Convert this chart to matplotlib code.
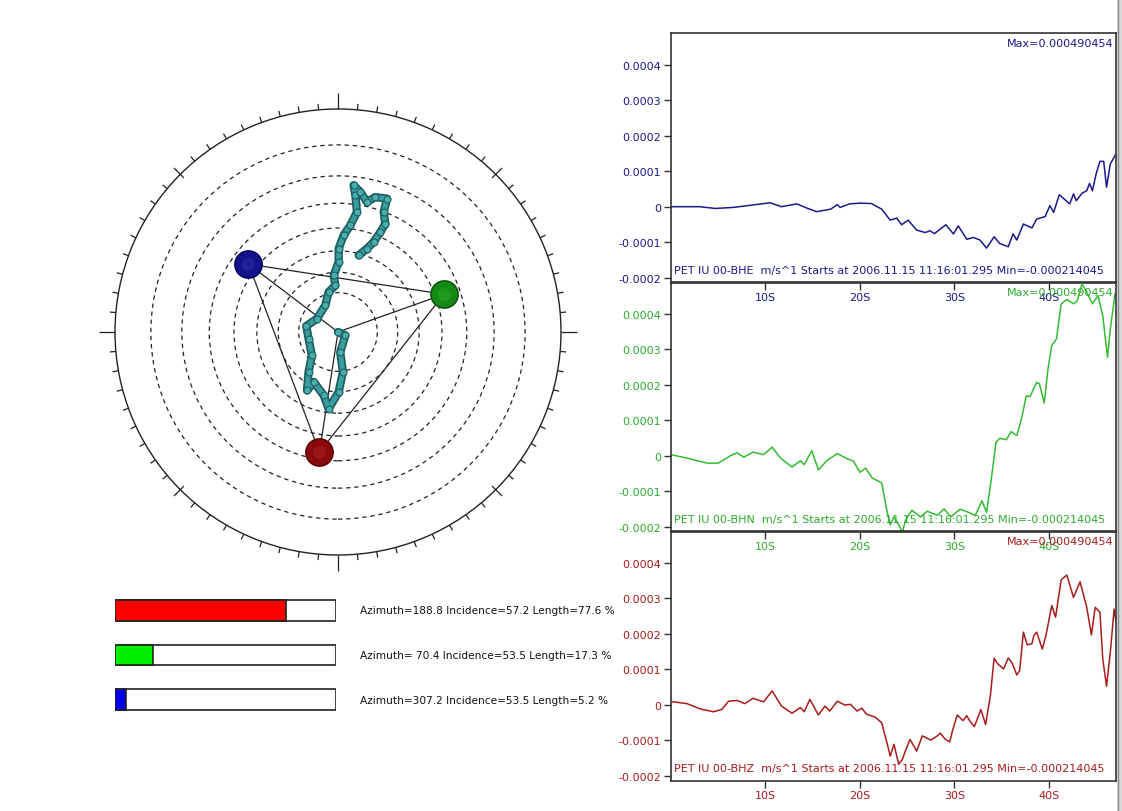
import numpy as np
import matplotlib
matplotlib.use("Agg")
import matplotlib.pyplot as plt
from matplotlib.patches import Rectangle, Circle

plt.rcParams['font.family'] = ['DejaVu Sans']

# ---------------- data ----------------
# waveform samples: time (s) and amplitude (units of 1e-4 m/s)
bhe_t = [0, 3.0, 4.7, 6.6, 8.4, 10.5, 11.7, 13.3, 14.4, 15.4, 16.9, 17.6,
         17.9, 18.9, 20.0, 21.2, 22.3, 23.2, 23.9, 24.4, 25.1, 26.0, 26.9, 27.4, 27.9, 28.5,
         29.1, 29.9, 30.4, 31.3, 32.0, 32.7, 33.4, 34.2, 34.8, 35.7, 36.2, 36.6, 37.3, 38.2,
         38.7, 39.6, 40.1, 40.5, 41.1, 41.6, 42.2, 42.6, 42.9, 43.5, 44.0, 44.3, 44.6, 45.0,
         45.4, 45.8, 46.1, 46.5, 47.1]
bhe_v = [0, 0, -0.05, -0.02, 0.04, 0.11, 0.0, 0.08, -0.04, -0.14, -0.07, 0.06,
         -0.02, 0.08, 0.10, 0.09, -0.07, -0.38, -0.32, -0.51, -0.38, -0.66, -0.73, -0.68,
         -0.76, -0.63, -0.51, -0.77, -0.54, -0.92, -0.87, -0.94, -1.17, -0.85, -1.04, -1.13,
         -0.77, -0.94, -0.49, -0.60, -0.35, -0.28, 0.03, -0.16, 0.34, 0.22, 0.08, 0.36, 0.17,
         0.38, 0.45, 0.66, 0.45, 0.93, 1.28, 1.28, 0.55, 1.21, 1.49]

bhn_t = [0, 1.7, 3.8, 5.0, 6.3, 7.0, 7.7, 8.7, 9.8, 10.7, 11.6, 12.8, 13.7, 14.1, 14.9, 15.6,
         16.5, 17.6, 18.6, 19.3, 20.0, 20.6, 21.3, 22.3, 22.9, 23.2, 23.6, 24.1, 24.5, 24.8,
         25.5, 26.4, 27.1, 28.2, 28.9, 29.6,
         30.6, 31.5, 32.2, 32.9, 33.4, 33.9, 34.4, 34.8, 35.5, 36.0, 36.6, 37.1, 37.6, 38.0,
         38.7, 39.0, 39.5, 39.9, 40.3, 40.8, 41.3, 41.9, 42.6, 43.0, 43.5, 44.0, 44.6, 45.2,
         45.7, 46.2, 46.5, 47.0]
bhn_v = [0.03, -0.07, -0.21, -0.21, 0.0, 0.08, -0.04, 0.10, 0.03, 0.24, -0.07, -0.32, -0.14,
         -0.25, 0.14, -0.40, -0.14, 0.06, -0.08, -0.15, -0.47, -0.35, -0.63, -0.77, -1.62,
         -1.95, -1.73, -1.95, -2.16, -1.83, -1.54, -1.73, -1.57, -1.68, -1.50, -1.73,
         -1.51, -1.60, -1.69, -1.27, -1.60, -0.66, 0.38, 0.49, 0.45, 0.68, 0.57, 1.04, 1.69,
         1.67, 2.07, 2.03, 1.49, 2.45, 3.11, 3.30, 4.29, 4.41, 4.29, 4.37, 4.85, 4.62, 4.29,
         4.52, 3.95, 2.78, 3.58, 4.57]

bhz_t = [0, 1.7, 3.1, 4.5, 5.4, 6.1, 7.0, 7.8, 8.7, 9.8, 10.7, 11.7, 12.8, 13.7, 14.1, 14.7,
         15.6, 16.3, 16.8, 17.6, 18.4, 19.0, 19.7, 20.2, 20.7, 21.6, 22.3, 22.9, 23.2, 23.6,
         24.1, 24.5, 24.8, 25.3, 26.0, 26.6, 27.5, 28.2,
         28.5, 29.0, 29.5, 29.8, 30.3, 30.9, 31.3, 31.6, 32.1, 32.8, 33.3, 33.8, 34.2, 34.6,
         35.2, 35.7, 36.1, 36.6, 36.9, 37.3, 37.7, 38.2, 38.4, 38.7, 39.3, 39.7, 40.3, 40.7,
         41.3, 41.9, 42.6, 43.3, 44.0, 44.5, 44.9, 45.4, 45.7, 46.1, 46.5, 46.9, 47.1]
bhz_v = [0.09, 0.03, -0.12, -0.20, -0.13, 0.10, 0.12, 0.03, 0.18, 0.08, 0.39, -0.04, -0.24,
         -0.08, -0.20, 0.15, -0.29, -0.04, -0.18, 0.10, -0.01, 0.01, -0.18, -0.10, -0.27,
         -0.35, -0.51, -1.12, -1.45, -1.12, -1.68, -1.54, -1.31, -0.98, -1.31, -0.88, -1.0,
         -0.88,
         -0.80, -0.97, -1.05, -0.73, -0.29, -0.45, -0.31, -0.45, -0.62, -0.14, -0.56, 0.25,
         1.31, 1.15, 1.01, 1.32, 1.18, 0.84, 0.96, 2.05, 1.69, 1.72, 1.95, 2.05, 1.57, 1.97,
         2.80, 2.47, 3.53, 3.66, 3.03, 3.47, 2.75, 1.97, 2.75, 2.61, 1.29, 0.52, 1.48, 2.70,
         2.37]

channels = ["PET IU 00-BHE", "PET IU 00-BHN", "PET IU 00-BHZ"]
start_time = "2006.11.15 11:16:01.295"
amp_max = 0.000490454
amp_min = -0.000214045
y_ticks = [0.0004, 0.0003, 0.0002, 0.0001, 0, -0.0001, -0.0002]
y_tick_labels = ["0.0004", "0.0003", "0.0002", "0.0001", "0", "-0.0001", "-0.0002"]
x_ticks = [10, 20, 30, 40]
x_tick_labels = ["10S", "20S", "30S", "40S"]
t_end = 47.1

# polarization components
comp_azimuth = [188.8, 70.4, 307.2]
comp_incidence = [57.2, 53.5, 53.5]
comp_length = [77.6, 17.3, 5.2]
ring_incidences = [20, 30, 40, 50, 60, 70, 80]

# particle motion (east, north), outer circle radius = 1
pm_east = [0.0, 0.033, 0.010, 0.022, 0.003, -0.042, -0.064, -0.109, -0.139, -0.132, -0.117,
           -0.132, -0.142, -0.094, -0.057, -0.042, -0.012, -0.019, 0.003, 0.003, 0.025, 0.055,
           0.085, 0.078, 0.070, 0.100, 0.130, 0.167, 0.220, 0.205, 0.212, 0.190, 0.160, 0.130,
           0.093]
pm_north = [0.0, -0.015, -0.090, -0.179, -0.269, -0.344, -0.284, -0.224, -0.262, -0.179,
            -0.105, -0.030, 0.027, 0.060, 0.120, 0.179, 0.209, 0.254, 0.314, 0.374, 0.433,
            0.478, 0.538, 0.613, 0.658, 0.628, 0.583, 0.605, 0.598, 0.538, 0.486, 0.448,
            0.404, 0.374, 0.344]

# ---------------- figure ----------------
W, H = 1122, 812
fig = plt.figure(figsize=(W / 100, H / 100), dpi=100)
fig.patch.set_facecolor('white')


def px_axes(x0, y0, x1, y1):
    return fig.add_axes([x0 / W, 1 - y1 / H, (x1 - x0) / W, (y1 - y0) / H])


# ---------- waveform panels ----------
line_colors = ['#1a1a8c', '#33bb33', '#a81c1c']
text_colors = ['#1a1a8c', '#2eaa2e', '#a81c1c']
traces = [(bhe_t, bhe_v), (bhn_t, bhn_v), (bhz_t, bhz_v)]
panel_tops = [34, 283, 532]
panel_h = 249.5
for i, (t, v) in enumerate(traces):
    ax = px_axes(671, panel_tops[i], 1116, panel_tops[i] + panel_h)
    ax.set_facecolor('none')
    ax.plot(t, np.array(v) * 1e-4, color=line_colors[i], lw=1.1)
    ax.set_xlim(0, t_end)
    ax.set_ylim(amp_min, amp_max)
    ax.set_yticks(y_ticks)
    ax.set_yticklabels(y_tick_labels)
    ax.set_xticks(x_ticks)
    ax.set_xticklabels(x_tick_labels)
    ax.tick_params(axis='both', direction='out', length=5, width=1, color='#333333',
                   labelsize=8, labelcolor=text_colors[i], pad=2)
    for sp in ax.spines.values():
        sp.set_color('#333333')
        sp.set_linewidth(1.2)
    ax.text(1 - 3 / 445, 1 - 10 / 249, f"Max={amp_max:.9f}", transform=ax.transAxes,
            ha='right', va='center', fontsize=8, color=text_colors[i])
    ax.text(3 / 445, 12 / 249,
            f"{channels[i]}  m/s^1 Starts at {start_time} Min={amp_min:.9f}",
            transform=ax.transAxes, ha='left', va='center', fontsize=8, color=text_colors[i])

# ---------- stereographic plot ----------
R_px = 223.0
axp = px_axes(88, 83, 588, 583)
lim = 250 / R_px
axp.set_xlim(-lim, lim)
axp.set_ylim(-lim, lim)
axp.set_aspect('equal')
axp.axis('off')

axp.add_patch(Circle((0, 0), 1.0, fill=False, ec='#222222', lw=1.0))
for inc in ring_incidences:
    r = np.tan(np.radians(inc) / 2)
    axp.add_patch(Circle((0, 0), r, fill=False, ec='#222222', lw=0.9, ls=(0, (3.5, 3))))

for az in range(0, 360, 5):
    a = np.radians(az)
    if az % 90 == 0:
        r0, r1 = 1.0, 1.0 + 16 / R_px
    elif az % 45 == 0:
        r0, r1 = 1.0 - 5 / R_px, 1.0 + 9 / R_px
    else:
        r0, r1 = 1.0, 1.0 + 6 / R_px
    axp.plot([r0 * np.sin(a), r1 * np.sin(a)], [r0 * np.cos(a), r1 * np.cos(a)],
             color='#222222', lw=0.9, solid_capstyle='butt')

# component positions
bx = []
by = []
for az, inc in zip(comp_azimuth, comp_incidence):
    r = np.tan(np.radians(inc) / 2)
    bx.append(r * np.sin(np.radians(az)))
    by.append(r * np.cos(np.radians(az)))

# lines from center and triangle
for x, y in zip(bx, by):
    axp.plot([0, x], [0, y], color='#222222', lw=0.9, zorder=3)
for k in range(3):
    j = (k + 1) % 3
    axp.plot([bx[k], bx[j]], [by[k], by[j]], color='#222222', lw=0.9, zorder=3)

# particle motion
axp.plot(pm_east, pm_north, color='#1e5e60', lw=6, zorder=4, solid_joinstyle='round',
         solid_capstyle='round')
axp.plot(pm_east, pm_north, color='#3a9e9e', lw=3.5, zorder=5, solid_joinstyle='round',
         solid_capstyle='round')
axp.plot(pm_east, pm_north, ls='none', marker='o', ms=5, mfc='#48aeae', mec='#1e5e60',
         mew=0.8, zorder=6)

ball_dark = ['#5a0000', '#0a500a', '#00005a']
ball_mid = ['#8a0a0a', '#138a13', '#12128c']
ball_light = ['#a82020', '#25a525', '#2a2aa8']
for k in range(3):
    axp.scatter([bx[k]], [by[k]], s=430, color=ball_dark[k], zorder=7, linewidths=0)
    axp.scatter([bx[k]], [by[k]], s=340, color=ball_mid[k], zorder=8, linewidths=0)
    axp.scatter([bx[k]], [by[k]], s=90, color=ball_light[k], zorder=9, linewidths=0,
                alpha=0.6)

# ---------- component length bars ----------
axb = px_axes(115, 589, 336, 723)
axb.set_xlim(0, 100)
axb.set_ylim(2.5, -0.5)
axb.axis('off')
bar_colors = ['#ff0000', '#00ee00', '#0000ee']
for k in range(3):
    axb.barh(k, 100, height=0.47, color='white', edgecolor='#222222', lw=1.2)
    axb.barh(k, comp_length[k], height=0.47, color=bar_colors[k], edgecolor='#222222', lw=1.2)
    axb.text((360 - 115) / 221 * 100, k,
             f"Azimuth={comp_azimuth[k]:5.1f} Incidence={comp_incidence[k]:.1f} "
             f"Length={comp_length[k]:.1f} %",
             ha='left', va='center', fontsize=7.6, color='#111111', clip_on=False)

# window edge at right
fig.patches.append(Rectangle((1117 / W, 0), 5 / W, 1, transform=fig.transFigure,
                             facecolor='#d8d8d8', edgecolor='none', zorder=-1))
fig.lines.append(plt.Line2D([1117.5 / W, 1117.5 / W], [0, 1], transform=fig.transFigure,
                            color='#8a8a8a', lw=1.0))

fig.savefig("out.png", dpi=100)
